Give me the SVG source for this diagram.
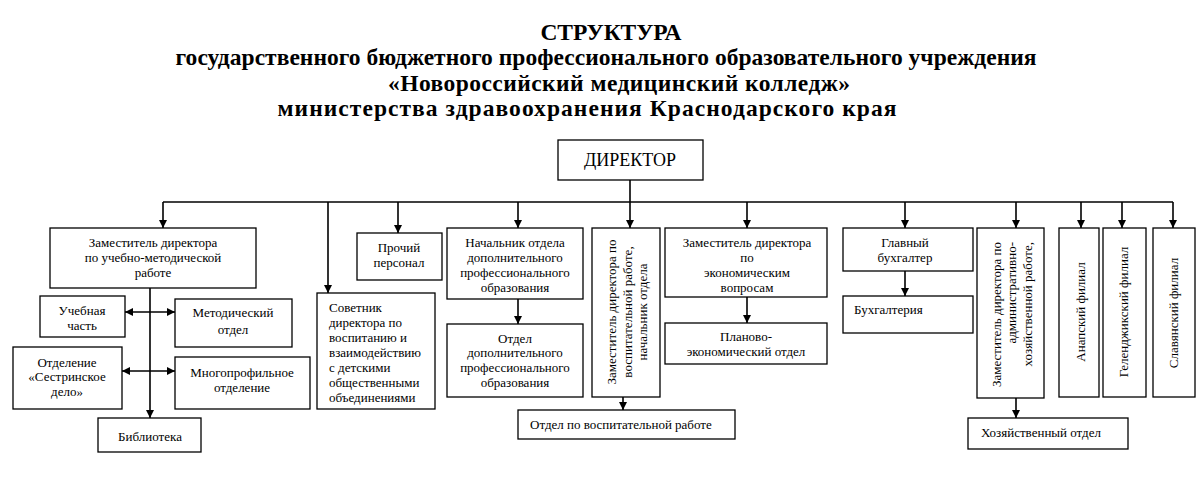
<svg xmlns="http://www.w3.org/2000/svg" width="1200" height="486" viewBox="0 0 1200 486">
<defs>
<marker id="ah" viewBox="0 0 10 10" refX="10" refY="5" markerWidth="8" markerHeight="8" markerUnits="userSpaceOnUse" orient="auto-start-reverse">
<path d="M0,0 L10,5 L0,10 Z" fill="#000"/>
</marker>
<style>
.b{fill:#fff;stroke:#000;stroke-width:1.3}
.t{font-family:"Liberation Serif","Times New Roman",serif;font-size:13px;fill:#000}
.c{text-anchor:middle}
.h{font-family:"Liberation Serif","Times New Roman",serif;font-size:23.5px;font-weight:bold;fill:#000;text-anchor:middle}
.l{fill:none;stroke:#000;stroke-width:1.6}
.a{fill:none;stroke:#000;stroke-width:1.6;marker-end:url(#ah)}
.d{fill:none;stroke:#000;stroke-width:1.6;marker-end:url(#ah);marker-start:url(#ah)}
</style>
</defs>
<rect width="1200" height="486" fill="#fff"/>
<g id="title">
<text class="h" x="611" y="40" textLength="141" lengthAdjust="spacing">СТРУКТУРА</text>
<text class="h" x="606" y="65" textLength="861" lengthAdjust="spacing">государственного бюджетного профессионального образовательного учреждения</text>
<text class="h" x="619" y="91" textLength="462" lengthAdjust="spacing">«Новороссийский медицинский колледж»</text>
<text class="h" x="587" y="116" textLength="619" lengthAdjust="spacing">министерства здравоохранения Краснодарского края</text>
</g>
<g id="connectors">
<line class="l" x1="163" y1="202" x2="1173" y2="202"/>
<line class="l" x1="630" y1="180" x2="630" y2="202"/>
<line class="a" x1="630" y1="202" x2="630" y2="228"/>
<line class="a" x1="163" y1="202" x2="163" y2="228"/>
<line class="a" x1="328" y1="202" x2="328" y2="293"/>
<line class="a" x1="398" y1="202" x2="398" y2="233"/>
<line class="a" x1="518" y1="202" x2="518" y2="228"/>
<line class="a" x1="747" y1="202" x2="747" y2="228"/>
<line class="a" x1="905" y1="202" x2="905" y2="228"/>
<line class="a" x1="1016" y1="202" x2="1016" y2="228"/>
<line class="a" x1="1081" y1="202" x2="1081" y2="228"/>
<line class="a" x1="1122" y1="202" x2="1122" y2="228"/>
<line class="a" x1="1173" y1="202" x2="1173" y2="228"/>
<line class="a" x1="150" y1="288" x2="150" y2="418"/>
<line class="d" x1="125" y1="312" x2="175" y2="312"/>
<line class="d" x1="122" y1="371" x2="175" y2="371"/>
<line class="a" x1="518" y1="299" x2="518" y2="324"/>
<line class="a" x1="623" y1="397" x2="623" y2="410"/>
<line class="a" x1="747" y1="297" x2="747" y2="323"/>
<line class="a" x1="905" y1="271" x2="905" y2="296"/>
<line class="a" x1="1016" y1="398" x2="1016" y2="418"/>
</g>
<g id="director">
<rect class="b" x="558" y="140" width="145" height="40"/>
<text class="t c" x="630" y="166" style="font-size:18px">ДИРЕКТОР</text>
</g>
<g id="zam-uchebno">
<rect class="b" x="50" y="228" width="206" height="60"/>
<text class="t c" x="153" y="247">Заместитель директора</text>
<text class="t c" x="153" y="262">по учебно-методической</text>
<text class="t c" x="153" y="277">работе</text>
</g>
<g id="uchebnaya">
<rect class="b" x="40" y="296" width="85" height="41"/>
<text class="t c" x="82" y="315">Учебная</text>
<text class="t c" x="82" y="330">часть</text>
</g>
<g id="metod">
<rect class="b" x="175" y="299" width="117" height="48"/>
<text class="t c" x="233" y="317">Методический</text>
<text class="t c" x="233" y="334">отдел</text>
</g>
<g id="sestr">
<rect class="b" x="13" y="347" width="109" height="62"/>
<text class="t c" x="67" y="367">Отделение</text>
<text class="t c" x="67" y="381">«Сестринское</text>
<text class="t c" x="67" y="396">дело»</text>
</g>
<g id="mnogoprof">
<rect class="b" x="175" y="357" width="135" height="52"/>
<text class="t c" x="242" y="377">Многопрофильное</text>
<text class="t c" x="242" y="392">отделение</text>
</g>
<g id="biblioteka">
<rect class="b" x="98" y="418" width="103" height="34"/>
<text class="t c" x="150" y="441">Библиотека</text>
</g>
<g id="sovetnik">
<rect class="b" x="317" y="293" width="118" height="116"/>
<text class="t" x="329" y="312">Советник</text>
<text class="t" x="329" y="327">директора по</text>
<text class="t" x="329" y="342">воспитанию и</text>
<text class="t" x="329" y="357">взаимодействию</text>
<text class="t" x="329" y="372">с детскими</text>
<text class="t" x="329" y="387">общественными</text>
<text class="t" x="329" y="402">объединениями</text>
</g>
<g id="prochiy">
<rect class="b" x="357" y="233" width="85" height="47"/>
<text class="t c" x="399" y="252">Прочий</text>
<text class="t c" x="399" y="267">персонал</text>
</g>
<g id="nach-dpo">
<rect class="b" x="447" y="228" width="136" height="71"/>
<text class="t c" x="515" y="247">Начальник отдела</text>
<text class="t c" x="515" y="262">дополнительного</text>
<text class="t c" x="515" y="277">профессионального</text>
<text class="t c" x="515" y="292">образования</text>
</g>
<g id="otdel-dpo">
<rect class="b" x="447" y="324" width="136" height="73"/>
<text class="t c" x="515" y="343">Отдел</text>
<text class="t c" x="515" y="357">дополнительного</text>
<text class="t c" x="515" y="372">профессионального</text>
<text class="t c" x="515" y="387">образования</text>
</g>
<g id="zam-vosp">
<rect class="b" x="592" y="228" width="68" height="169"/>
<text class="t c" transform="translate(616,312) rotate(-90)">Заместитель директора по</text>
<text class="t c" transform="translate(632,312) rotate(-90)">воспитательной работе,</text>
<text class="t c" transform="translate(647,312) rotate(-90)">начальник отдела</text>
</g>
<g id="otdel-vosp">
<rect class="b" x="518" y="410" width="217" height="29"/>
<text class="t" x="530" y="429">Отдел по воспитательной работе</text>
</g>
<g id="zam-econ">
<rect class="b" x="665" y="228" width="162" height="69"/>
<text class="t c" x="747" y="247">Заместитель директора</text>
<text class="t c" x="747" y="262">по</text>
<text class="t c" x="747" y="277">экономическим</text>
<text class="t c" x="747" y="292">вопросам</text>
</g>
<g id="planovo">
<rect class="b" x="665" y="323" width="162" height="41"/>
<text class="t c" x="746" y="341">Планово-</text>
<text class="t c" x="746" y="356">экономический отдел</text>
</g>
<g id="glavbuh">
<rect class="b" x="843" y="228" width="130" height="43"/>
<text class="t c" x="905" y="247">Главный</text>
<text class="t c" x="905" y="262">бухгалтер</text>
</g>
<g id="buhgalteria">
<rect class="b" x="843" y="296" width="130" height="37"/>
<text class="t" x="854" y="314">Бухгалтерия</text>
</g>
<g id="zam-ahr">
<rect class="b" x="977" y="228" width="67" height="170"/>
<text class="t" text-anchor="end" transform="translate(1001,242) rotate(-90)">Заместитель директора по</text>
<text class="t" text-anchor="end" transform="translate(1016,242) rotate(-90)">административно-</text>
<text class="t" text-anchor="end" transform="translate(1032,242) rotate(-90)">хозяйственной работе,</text>
</g>
<g id="hoz">
<rect class="b" x="968" y="418" width="160" height="31"/>
<text class="t" x="981" y="437">Хозяйственный отдел</text>
</g>
<g id="anapa">
<rect class="b" x="1059" y="228" width="40" height="169"/>
<text class="t c" transform="translate(1085,312) rotate(-90)">Анапский филиал</text>
</g>
<g id="gelendzhik">
<rect class="b" x="1103" y="228" width="43" height="169"/>
<text class="t c" transform="translate(1128,312) rotate(-90)">Геленджикский филиал</text>
</g>
<g id="slavyansk">
<rect class="b" x="1153" y="228" width="42" height="169"/>
<text class="t c" transform="translate(1178,313) rotate(-90)">Славянский филиал</text>
</g>
</svg>
